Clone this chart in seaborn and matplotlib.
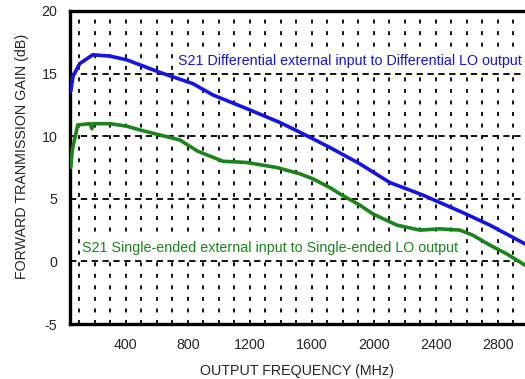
import matplotlib
matplotlib.use("Agg")
import matplotlib.pyplot as plt
import seaborn as sns
import pandas as pd

# ---- data ----
freq_diff = [45, 60, 103, 187, 297, 406, 619, 832, 961, 1180, 1393, 1542, 1716,
             1909, 2103, 2316, 2574, 2748, 2975]
gain_diff = [13.6, 14.8, 15.8, 16.5, 16.4, 16.1, 15.1, 14.2, 13.3, 12.2, 11.1, 10.2,
             9.1, 7.8, 6.3, 5.3, 3.9, 2.9, 1.4]

freq_se = [45, 55, 90, 170, 181, 190, 297, 406, 490, 619, 748, 864, 1026, 1180,
           1374, 1522, 1606, 1716, 1780, 1909, 1993, 2148, 2296, 2425, 2554, 2638,
           2748, 2857, 2975]
gain_se = [7.5, 8.9, 10.9, 11.0, 10.6, 11.0, 11.0, 10.8, 10.5, 10.1, 9.7, 8.8, 8.0,
           7.9, 7.5, 7.0, 6.6, 5.9, 5.4, 4.5, 3.8, 2.9, 2.5, 2.6, 2.5, 2.1, 1.3, 0.6, -0.3]

label_diff = "S21 Differential external input to Differential LO output"
label_se = "S21 Single-ended external input to Single-ended LO output"
x_ticks = [400, 800, 1200, 1600, 2000, 2400, 2800]
y_ticks = [-5, 0, 5, 10, 15, 20]
x_label = "OUTPUT FREQUENCY (MHz)"
y_label = "FORWARD TRANMISSION GAIN (dB)"

df = pd.concat([
    pd.DataFrame({"freq": freq_diff, "gain": gain_diff, "series": "diff"}),
    pd.DataFrame({"freq": freq_se, "gain": gain_se, "series": "se"}),
], ignore_index=True)

sns.set_style("white")
plt.rcParams["font.family"] = ["Liberation Sans", "DejaVu Sans"]

fig = plt.figure(figsize=(5.25, 3.79), dpi=100)
ax = fig.add_axes([0.1333, 0.1451, 0.8667, 0.8259])

blue = "#1414e6"
green = "#1a841a"
fs = 10.3

# grid
for f in range(100, 3000, 100):
    ax.axvline(f, color="black", lw=1.3, ls=(0, (2.2, 4.2)), zorder=1)
for yv in [0, 5, 10, 15]:
    ax.axhline(yv, color="black", lw=1.3, ls=(0, (3.5, 2.5)), zorder=1)

sns.lineplot(data=df, x="freq", y="gain", hue="series", sort=False,
             palette={"diff": blue, "se": green}, linewidth=2.6,
             legend=False, ax=ax, zorder=3)

ax.set_xlim(40, 2975)
ax.set_ylim(-5, 20)
ax.set_xticks(x_ticks)
ax.set_yticks(y_ticks)
ax.set_xticklabels([str(t) for t in x_ticks])
ax.set_yticklabels([str(t) for t in y_ticks])
ax.tick_params(axis="both", length=0, labelsize=fs)
ax.tick_params(axis="x", pad=10)
ax.tick_params(axis="y", pad=9)

ax.set_xlabel(x_label, fontsize=fs, labelpad=9)
ax.set_ylabel(y_label, fontsize=fs)
ax.yaxis.set_label_coords(-0.09, 0.537)

for side in ["left", "top", "bottom"]:
    ax.spines[side].set_linewidth(2.4)
    ax.spines[side].set_color("black")
ax.spines["right"].set_visible(False)

box = dict(facecolor="white", edgecolor="none", pad=1.5)
ax.text(2955, 16.0, label_diff, color=blue, fontsize=fs, ha="right", va="center",
        zorder=4, bbox=box)
ax.text(116, 1.05, label_se, color=green, fontsize=fs, ha="left", va="center",
        zorder=4, bbox=box)

fig.savefig("out.png", dpi=100)
